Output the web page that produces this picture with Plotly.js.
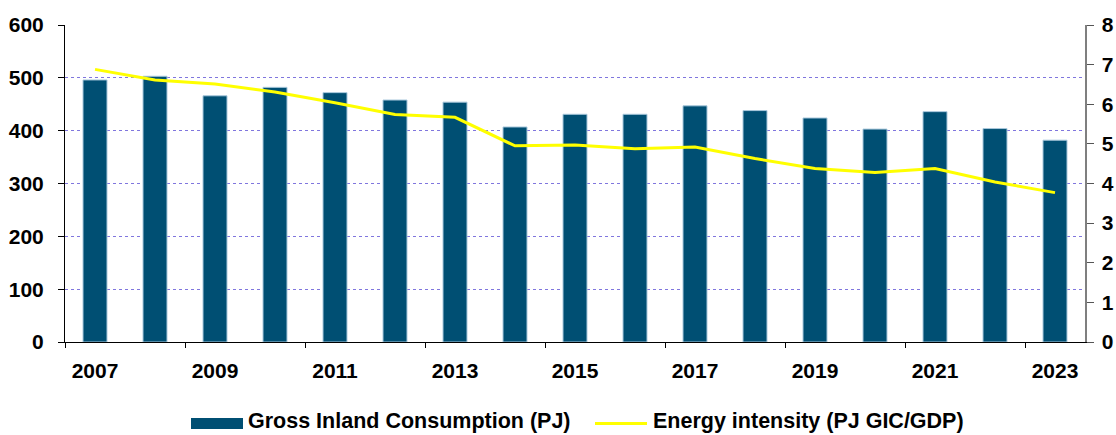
<!DOCTYPE html>
<html>
<head>
<meta charset="utf-8">
<script src="https://cdn.plot.ly/plotly-3.0.1.min.js"></script>
<style>html,body{margin:0;padding:0;background:#fff;}#chart{width:1116px;height:435px;}</style>
</head>
<body>
<div id="chart"></div>
<script>
// ---- data ----
const years = [2007,2008,2009,2010,2011,2012,2013,2014,2015,2016,2017,2018,2019,2020,2021,2022,2023];
const grossInland = [496,503,466,482,472,458,454,407,431,431,447,438,424,403,436,404,382];
const energyIntensity = [6.88,6.61,6.51,6.31,6.04,5.74,5.67,4.95,4.97,4.88,4.92,4.63,4.38,4.28,4.38,4.04,3.77];
const labelYears = ['2007','2009','2011','2013','2015','2017','2019','2021','2023'];
const seriesNames = ['Gross Inland Consumption (PJ)', 'Energy intensity (PJ GIC/GDP)'];

const barColor = '#004f73';
const lineColor = '#ffff00';
const gridColor = 'rgb(128,118,222)';
const fontFam = 'Liberation Sans, Arial, sans-serif';

// tick positions at category boundaries, every second year
const boundaries = labelYears.map(y => Number(y) - 0.5);
const xRange = [years[0] - 0.5, years[years.length - 1] + 0.5];

const W = 1116, H = 435, ML = 65, MR = 31, MT = 25, MB = 93;
const pw = W - ML - MR, ph = H - MT - MB;
const px = x => (x - ML) / pw;
const py = y => (H - MB - y) / ph;

const traces = [
  {
    type: 'bar', x: years, y: grossInland, name: seriesNames[0],
    width: 0.4,
    marker: {color: barColor, line: {color: '#a9c8dc', width: 1}},
    xaxis: 'x', yaxis: 'y', showlegend: false, hoverinfo: 'x+y'
  },
  {
    type: 'scatter', mode: 'lines', x: years, y: energyIntensity, name: seriesNames[1],
    line: {color: lineColor, width: 3},
    xaxis: 'x', yaxis: 'y2', showlegend: false
  }
];

const tickFont = {family: fontFam, size: 21, color: '#000', weight: 'bold'};

const layout = {
  width: W, height: H,
  margin: {l: ML, r: MR, t: MT, b: MB, pad: 0},
  paper_bgcolor: '#fff', plot_bgcolor: '#fff',
  showlegend: false,
  bargap: 0.6,
  xaxis: {
    type: 'linear', range: xRange,
    tickmode: 'array', tickvals: boundaries, ticktext: labelYears,
    ticklabelshift: 30, ticklabelstandoff: 5,
    ticks: 'outside', ticklen: 5, tickwidth: 1, tickcolor: '#000',
    showline: true, linecolor: '#000', linewidth: 1,
    showgrid: false, zeroline: false, tickfont: tickFont, fixedrange: true
  },
  xaxis2: {
    overlaying: 'x', anchor: 'y', side: 'bottom', type: 'linear', range: xRange,
    tickmode: 'array', tickvals: boundaries,
    ticks: 'inside', ticklen: 6, tickwidth: 1, tickcolor: '#000',
    showticklabels: false, showline: false, showgrid: false, zeroline: false
  },
  yaxis: {
    range: [0, 600], tickmode: 'linear', tick0: 0, dtick: 100,
    ticks: 'outside', ticklen: 6, tickwidth: 1, tickcolor: '#000',
    ticklabelstandoff: 10,
    showline: true, linecolor: '#000', linewidth: 1,
    showgrid: true, gridcolor: gridColor, griddash: 'dot', gridwidth: 1,
    zeroline: false, tickfont: tickFont, fixedrange: true
  },
  yaxis3: {
    overlaying: 'y', anchor: 'x', side: 'left', range: [0, 600],
    tickmode: 'linear', tick0: 0, dtick: 100,
    ticks: 'inside', ticklen: 7, tickwidth: 1, tickcolor: '#000',
    showticklabels: false, showline: false, showgrid: false, zeroline: false
  },
  yaxis2: {
    overlaying: 'y', anchor: 'x', side: 'right', range: [0, 8],
    tickmode: 'linear', tick0: 0, dtick: 1,
    ticks: 'outside', ticklen: 7, tickwidth: 1, tickcolor: '#555',
    ticklabelstandoff: 4,
    showline: true, linecolor: '#7f7f7f', linewidth: 1.5,
    showgrid: false, zeroline: false, tickfont: tickFont, fixedrange: true
  },
  yaxis4: {
    overlaying: 'y', anchor: 'x', side: 'right', range: [0, 8],
    tickmode: 'linear', tick0: 0, dtick: 1,
    ticks: 'inside', ticklen: 7, tickwidth: 1, tickcolor: '#555',
    showticklabels: false, showline: false, showgrid: false, zeroline: false
  },
  shapes: [
    {type: 'rect', xref: 'paper', yref: 'paper',
     x0: px(191), x1: px(243), y0: py(429), y1: py(418),
     fillcolor: barColor, line: {width: 0}},
    {type: 'line', xref: 'paper', yref: 'paper',
     x0: px(595), x1: px(647), y0: py(423.5), y1: py(423.5),
     line: {color: lineColor, width: 3}}
  ],
  annotations: [
    {xref: 'paper', yref: 'paper', x: px(246), y: py(421), xanchor: 'left', yanchor: 'middle',
     text: seriesNames[0], showarrow: false,
     font: {family: fontFam, size: 21.5, color: '#000', weight: 'bold'}},
    {xref: 'paper', yref: 'paper', x: px(651), y: py(421), xanchor: 'left', yanchor: 'middle',
     text: seriesNames[1], showarrow: false,
     font: {family: fontFam, size: 21.5, color: '#000', weight: 'bold'}}
  ]
};

Plotly.newPlot('chart', traces, layout, {displayModeBar: false, staticPlot: true});
</script>
</body>
</html>
